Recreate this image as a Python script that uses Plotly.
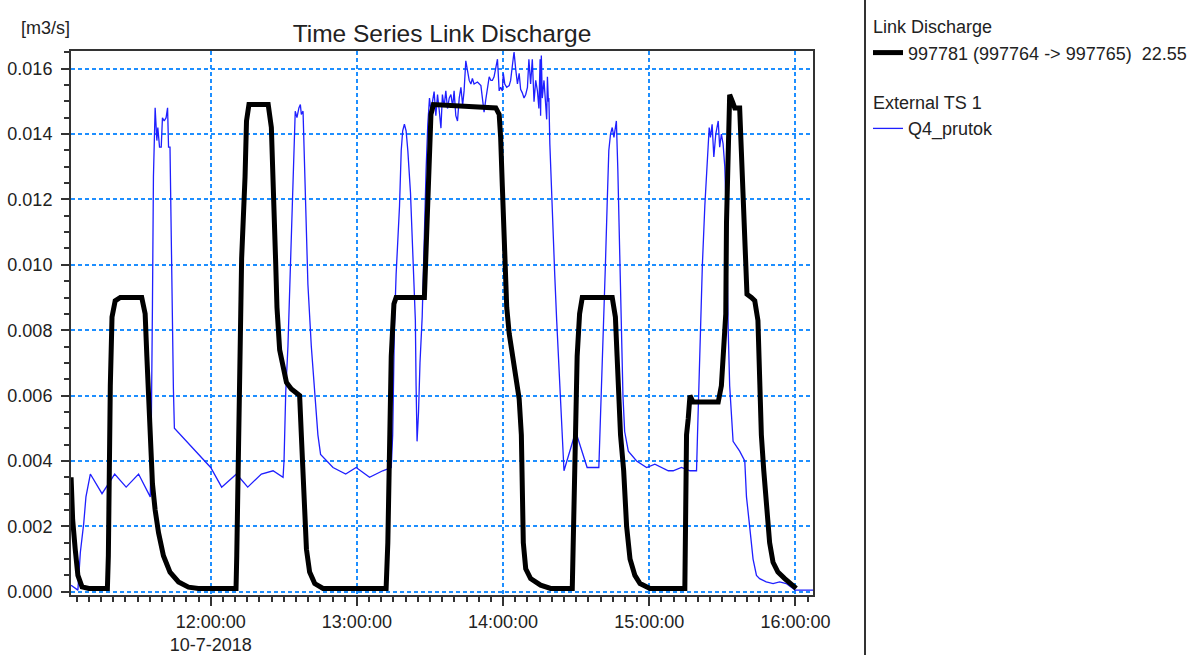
import pandas as pd
import plotly.graph_objects as go

# ---------------- data (minutes after 2018-07-10 11:00:00) ----------------
base_time = "2018-07-10 11:00:00"

link_minutes = [2.7, 3.35, 4.4, 5.5, 7.2, 10, 17.6, 18.0, 18.8, 19.5, 20.8, 22.9, 31.7, 33.1, 33.8,
                34.5, 35.2, 36.1, 37.2, 38.6, 40.6, 43.3, 46.8, 50.9, 54.9, 70.4, 70.7, 71.6, 72.7,
                74.1, 74.7, 75.7, 83.6, 84.9, 85.6, 86.7, 87.2, 88.3, 89.7, 91.1, 93.1, 96.5, 97.2,
                97.9, 98.6, 99.3, 100.6, 102.7, 106.1, 132.0, 132.7, 133.4, 134.1, 135.2, 136.1,
                147.7, 148.1, 148.8, 149.8, 150.4, 151.4, 177.0, 178.4, 179.0, 179.7, 180.4, 181.1,
                181.5, 182.5, 183.8, 185.2, 186.6, 187.5, 187.9, 188.3, 189.3, 191.3, 195.4, 199.5,
                208.4, 209.1, 209.8, 210.4, 211.4, 212.5, 224.8, 226.1, 226.8, 227.5, 228.2, 229.5,
                230.7, 232.1, 234.1, 236.2, 240.3, 254.6, 255.0, 255.3, 256.0, 256.7, 258.0, 268.3,
                269.6, 270.3, 271.4, 271.7, 272.4, 273.0, 274.1, 275.1, 277.1, 277.8, 278.8, 279.6,
                280.1, 281.9, 283.3, 284.6, 285.3, 286.0, 287.0, 288.0, 289.4, 290.8, 292.8, 295.6,
                298.3, 300.3]
link_values = [0.0035, 0.0022, 0.0013, 0.0005, 0.00015, 0.0001, 0.0001, 0.0011, 0.0063, 0.0084,
               0.0089, 0.009, 0.009, 0.0085, 0.0072, 0.0057, 0.0045, 0.0033, 0.0025, 0.0018, 0.0011,
               0.0006, 0.0003, 0.00014, 0.0001, 0.0001, 0.0011, 0.0066, 0.0102, 0.0127, 0.0144,
               0.0149, 0.0149, 0.0142, 0.012, 0.010, 0.0087, 0.0074, 0.0069, 0.0064, 0.0062, 0.006,
               0.0048, 0.0037, 0.0022, 0.0013, 0.0006, 0.00025, 0.0001, 0.0001, 0.0015, 0.0048,
               0.0072, 0.0088, 0.009, 0.009, 0.010, 0.011, 0.0135, 0.0146, 0.0149, 0.0148, 0.0146,
               0.0139, 0.0124, 0.0112, 0.010, 0.0087, 0.0079, 0.0072, 0.0064, 0.0059, 0.0048, 0.0032,
               0.0015, 0.0007, 0.0004, 0.0002, 0.0001, 0.0001, 0.0021, 0.0048, 0.0072, 0.0085, 0.009,
               0.009, 0.0084, 0.0072, 0.0059, 0.0048, 0.0037, 0.002, 0.001, 0.0005, 0.00025, 0.0001,
               0.0001, 0.0018, 0.0048, 0.0053, 0.006, 0.0058, 0.0058, 0.0063, 0.0072, 0.0085, 0.0113,
               0.0141, 0.0152, 0.015, 0.0148, 0.0148, 0.0133, 0.0113, 0.010, 0.0091, 0.009, 0.0089,
               0.0083, 0.0066, 0.0048, 0.0037, 0.0026, 0.0015, 0.0009, 0.0006, 0.0004, 0.00025,
               0.0001]

ext_minutes = [2.7, 5.5, 6.5, 7.9, 8.8, 10.6, 15.4, 20.6, 25.3, 30.4, 35.2, 35.6, 36.1, 36.5, 37.2,
               37.9, 38.3, 39.0, 39.7, 40.2, 40.9, 41.7, 42.3, 42.7, 43.3, 43.8, 44.0, 44.7, 45.1,
               60.0, 64.5, 70.6, 75.2, 80.8, 85.6, 89.7, 90.1, 90.8, 91.7, 92.4, 93.1, 94.1, 94.7,
               95.4, 96.2, 96.8, 97.2, 97.9, 98.6, 99.3, 99.9, 101.3, 102.7, 104.0, 105.1, 110.2,
               115.4, 119.7, 125.2, 130.6, 134.1, 134.7, 135.4, 136.1, 137.5, 138.2, 138.8, 139.5,
               140.2, 140.9, 142.0, 142.9, 144.0, 144.3, 144.7, 145.3, 145.9, 146.8, 147.3, 147.7,
               148.4, 149.1, 149.8, 150.4, 151.7, 152.4, 153.1, 153.8, 154.5, 155.1, 155.8, 156.5,
               157.2, 157.9, 158.6, 159.3, 159.9, 160.6, 161.3, 162.0, 162.7, 163.4, 164.0, 164.7,
               165.4, 166.1, 166.8, 167.4, 168.1, 169.5, 170.9, 172.2, 172.9, 173.6, 174.3, 175.0,
               175.6, 176.3, 177.0, 177.7, 178.4, 179.0, 179.7, 180.1, 180.7, 181.5, 182.5, 183.1,
               183.8, 184.5, 185.2, 185.9, 186.6, 187.2, 187.9, 188.6, 189.3, 190.0, 190.6, 191.3,
               192.0, 192.7, 193.4, 194.1, 194.7, 195.2, 195.4, 195.7, 196.1, 196.8, 197.5, 197.9,
               198.2, 198.6, 198.8, 199.2, 199.8, 200.6, 201.2, 202.0, 202.5, 203.3, 204.0, 204.7,
               205.0, 209.8, 212.5, 214.5, 219.3, 220.0, 220.7, 221.4, 222.0, 222.7, 223.4, 224.1,
               224.8, 225.5, 226.1, 226.5, 227.1, 227.6, 228.2, 228.7, 229.2, 229.9, 231.4, 234.8,
               238.9, 242.3, 245.1, 247.8, 249.8, 253.2, 256.7, 259.4, 259.8, 260.7, 261.8, 262.8,
               263.8, 264.6, 265.1, 265.8, 266.5, 267.3, 268.3, 268.9, 269.6, 270.3, 271.0, 271.7,
               272.4, 273.0, 274.4, 277.1, 279.2, 279.9, 281.2, 282.6, 284.0, 285.3, 288.0, 290.8,
               293.5, 296.2, 299.9, 307.2]
ext_values = [0.0002, 0.00005, 0.0012, 0.0021, 0.0029, 0.0036, 0.003, 0.0036, 0.0032, 0.0036, 0.0029,
              0.0048, 0.0088, 0.0127, 0.0148, 0.0138, 0.0142, 0.0136, 0.0136, 0.0145, 0.0144, 0.0145,
              0.0148, 0.0136, 0.0136, 0.0111, 0.0087, 0.0062, 0.005, 0.0038, 0.0032, 0.0036, 0.0032,
              0.0036, 0.0037, 0.0035, 0.004, 0.0061, 0.0075, 0.0091, 0.0107, 0.0129, 0.0147, 0.0145,
              0.0148, 0.0149, 0.0146, 0.0147, 0.0129, 0.0113, 0.0094, 0.0075, 0.0061, 0.0048, 0.0042,
              0.0038, 0.0036, 0.0038, 0.0035, 0.0037, 0.0038, 0.0048, 0.0081, 0.0097, 0.0118, 0.0135,
              0.0141, 0.0143, 0.0141, 0.0135, 0.0122, 0.0102, 0.0083, 0.0063, 0.0046, 0.0055, 0.007,
              0.0084, 0.0098, 0.0113, 0.0129, 0.0143, 0.0151, 0.0147, 0.0153, 0.01456, 0.01521,
              0.01472, 0.01418, 0.01521, 0.01483, 0.01532, 0.01478, 0.0151, 0.01521, 0.01483,
              0.01532, 0.01456, 0.0144, 0.0151, 0.01543, 0.01488, 0.01532, 0.01624, 0.01597,
              0.01564, 0.01553, 0.0157, 0.01553, 0.01559, 0.01548, 0.01467, 0.01505, 0.01543,
              0.01575, 0.01564, 0.01564, 0.01575, 0.01608, 0.01629, 0.01532, 0.01543, 0.01532,
              0.01586, 0.01553, 0.01543, 0.01548, 0.01564, 0.01608, 0.01651, 0.01597, 0.01553,
              0.01586, 0.01537, 0.01526, 0.0151, 0.01521, 0.01543, 0.01629, 0.01553, 0.01629,
              0.01499, 0.01564, 0.01532, 0.01478, 0.01629, 0.01456, 0.0164, 0.0151, 0.01564,
              0.01488, 0.01445, 0.01575, 0.01499, 0.0151, 0.01369, 0.01239, 0.01131, 0.0097, 0.0083,
              0.0075, 0.0064, 0.0052, 0.004, 0.0037, 0.0049, 0.0043, 0.0038, 0.0038, 0.0053, 0.007,
              0.0083, 0.010, 0.0118, 0.0135, 0.014, 0.0142, 0.0139, 0.0143, 0.0144, 0.0129, 0.0113,
              0.0097, 0.0075, 0.006, 0.0049, 0.0043, 0.004, 0.0038, 0.0039, 0.0038, 0.0037, 0.0037,
              0.0038, 0.0037, 0.0037, 0.0048, 0.0072, 0.010, 0.0118, 0.0133, 0.0142, 0.0139, 0.0143,
              0.0133, 0.014, 0.0144, 0.0136, 0.014, 0.0137, 0.013, 0.0113, 0.008, 0.0063, 0.0046,
              0.0043, 0.004, 0.0029, 0.002, 0.001, 0.0005, 0.0004, 0.0003, 0.00025, 0.0003, 0.00025,
              0.00005, 0.00005]

x_tick_times = ["2018-07-10 12:00:00", "2018-07-10 13:00:00", "2018-07-10 14:00:00",
                "2018-07-10 15:00:00", "2018-07-10 16:00:00"]
x_tick_labels = ["12:00:00<br>10-7-2018", "13:00:00", "14:00:00", "15:00:00", "16:00:00"]
y_tick_values = [0.000, 0.002, 0.004, 0.006, 0.008, 0.010, 0.012, 0.014, 0.016]

link_name = "997781 (997764 -> 997765) \u00a022.55"
ext_name = "Q4_prutok"
title_text = "Time Series Link Discharge"
unit_text = "[m3/s]"

# ---------------- figure ----------------
t0 = pd.Timestamp(base_time)
link_t = [t0 + pd.Timedelta(minutes=m) for m in link_minutes]
ext_t = [t0 + pd.Timedelta(minutes=m) for m in ext_minutes]

FONT = "Liberation Sans, Arial, sans-serif"
GRID = "#1e8fff"
W, H = 1192, 655
L, R, T, B = 71, 379, 51, 60
PW, PH = W - L - R, H - T - B

fig = go.Figure()
fig.add_trace(go.Scatter(x=ext_t, y=ext_values, mode="lines", name=ext_name,
                         line=dict(color="#1f1fff", width=1.3),
                         legendgroup="ext", legendgrouptitle_text="External TS 1",
                         legendrank=2))
fig.add_trace(go.Scatter(x=link_t, y=link_values, mode="lines", name=link_name,
                         line=dict(color="#000000", width=5),
                         legendgroup="link", legendgrouptitle_text="Link Discharge",
                         legendrank=1))

fig.update_layout(
    width=W, height=H,
    margin=dict(l=L, r=R, t=T, b=B, autoexpand=False),
    paper_bgcolor="white", plot_bgcolor="white",
    font=dict(family=FONT, size=18, color="#222222"),
    title=dict(text=title_text, x=(L + PW / 2) / W, xref="container", xanchor="center",
               y=1 - 33 / H, yanchor="middle", yref="container",
               font=dict(size=24.5, color="#222222")),
    legend=dict(xref="container", yref="container",
                x=868 / W, xanchor="left", y=1 - 8 / H, yanchor="top",
                traceorder="grouped", tracegroupgap=23, bgcolor="rgba(0,0,0,0)",
                font=dict(size=18, color="#222222"),
                grouptitlefont=dict(size=18, color="#222222"),
                itemwidth=30),
    showlegend=True,
)

fig.update_xaxes(
    type="date", automargin=False,
    range=["2018-07-10 11:02:40", "2018-07-10 16:07:12"],
    tickmode="array", tickvals=x_tick_times, ticktext=x_tick_labels,
    ticks="outside", ticklen=9, tickwidth=1.5, tickcolor="#333333",
    showgrid=True, gridcolor=GRID, gridwidth=1.5, griddash="4px,3px",
    showline=True, linecolor="#333333", linewidth=2, mirror=True,
    zeroline=False, ticklabelstandoff=0,
    minor=dict(tickmode="linear", tick0="2018-07-10 11:00:00", dtick=300000,
               ticks="outside", ticklen=5, tickwidth=1.5, tickcolor="#333333", showgrid=False),
)
fig.update_yaxes(
    automargin=False,
    range=[-0.0001, 0.01654],
    tickmode="array", tickvals=y_tick_values, tickformat=".3f",
    ticks="outside", ticklen=8, tickwidth=1.5, tickcolor="#333333",
    showgrid=True, gridcolor=GRID, gridwidth=1.5, griddash="4px,3px",
    showline=True, linecolor="#333333", linewidth=2, mirror=True,
    zeroline=False, ticklabelstandoff=5,
    minor=dict(tickmode="linear", tick0=0, dtick=0.0005,
               ticks="outside", ticklen=5, tickwidth=1.5, tickcolor="#333333", showgrid=False),
)

fig.add_annotation(text=unit_text, xref="paper", yref="paper",
                   x=(19 - L) / PW, xanchor="left", y=1 + (T - 28) / PH, yanchor="middle",
                   showarrow=False, font=dict(size=18, color="#222222"))

# separator line between chart and legend panel
fig.add_shape(type="line", xref="paper", yref="paper",
              x0=(865 - L) / PW, x1=(865 - L) / PW,
              y0=-(H - T - PH + 2) / PH, y1=1 + (T + 2) / PH,
              line=dict(color="#333333", width=2))

# remove the browser's default page margin so the figure sits at the window origin
fig.write_html("out.html", config={"displayModeBar": False},
               post_script="document.body.style.margin='0px';")
